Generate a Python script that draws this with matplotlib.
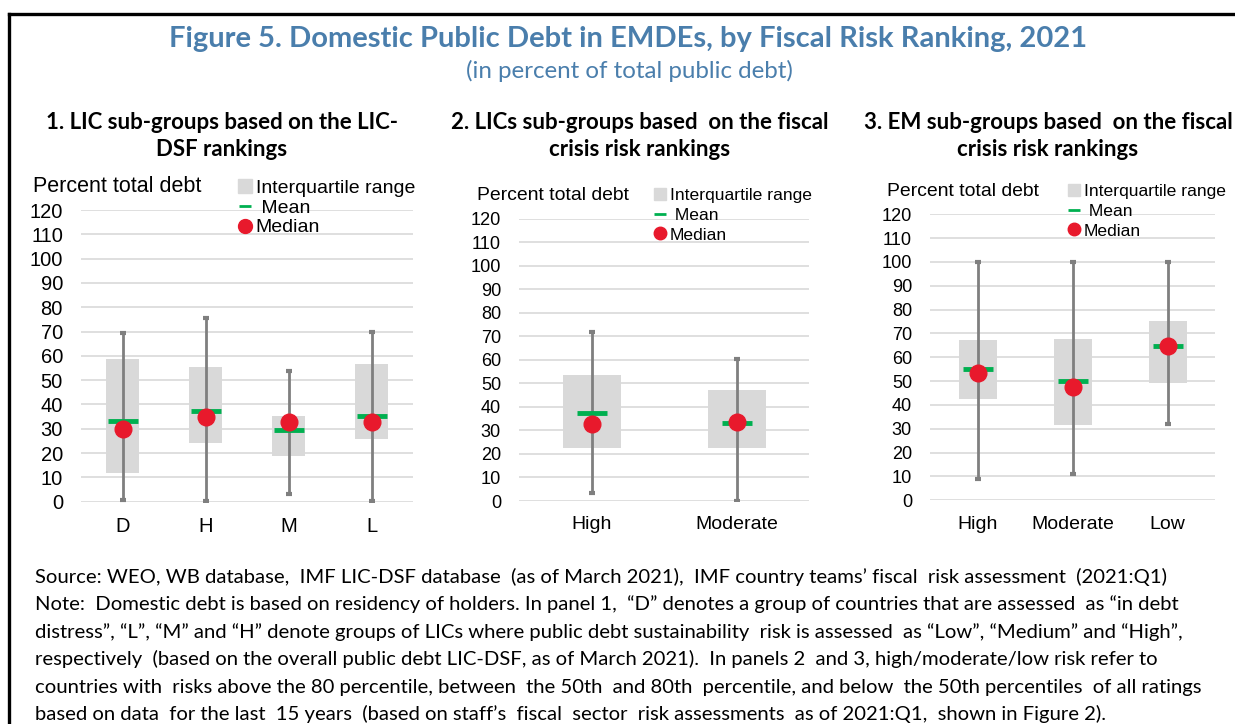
import numpy as np
import matplotlib
matplotlib.use('Agg')
import matplotlib.pyplot as plt
from matplotlib.lines import Line2D

# dados
cats1 = ['D', 'H', 'M', 'L']
lo1 = [0.5, 0.4, 3.2, 0.4]
hi1 = [69.3, 75.4, 53.9, 69.7]
q1_1 = [11.7, 24.0, 18.9, 25.8]
q3_1 = [58.6, 55.3, 35.4, 56.5]
mean1 = [33.3, 37.4, 29.6, 35.4]
med1 = [29.9, 34.8, 32.6, 32.6]

cats2 = ['High', 'Moderate']
lo2 = [3.3, 0.0]
hi2 = [71.7, 60.4]
q1_2 = [22.7, 22.7]
q3_2 = [53.4, 47.0]
mean2 = [37.3, 33.2]
med2 = [32.7, 33.4]

cats3 = ['High', 'Moderate', 'Low']
lo3 = [8.8, 11.0, 32.0]
hi3 = [100, 100, 100]
q1_3 = [42.4, 31.7, 49.1]
q3_3 = [67.3, 67.8, 75.4]
mean3 = [55.1, 50.2, 64.9]
med3 = [53.4, 47.7, 64.8]

panel_titles = ['1. LIC sub-groups based on the LIC-\nDSF rankings',
                '2. LICs sub-groups based  on the fiscal\ncrisis risk rankings',
                '3. EM sub-groups based  on the fiscal\ncrisis risk rankings']

notes = ['Source: WEO, WB database,  IMF LIC-DSF database  (as of March 2021),  IMF country teams\u2019 fiscal  risk assessment  (2021:Q1)',
         'Note:  Domestic debt is based on residency of holders. In panel 1,  \u201cD\u201d denotes a group of countries that are assessed  as \u201cin debt',
         'distress\u201d, \u201cL\u201d, \u201cM\u201d and \u201cH\u201d denote groups of LICs where public debt sustainability  risk is assessed  as \u201cLow\u201d, \u201cMedium\u201d and \u201cHigh\u201d,',
         'respectively  (based on the overall public debt LIC-DSF, as of March 2021).  In panels 2  and 3, high/moderate/low risk refer to',
         'countries with  risks above the 80 percentile, between  the 50th  and 80th  percentile, and below  the 50th percentiles  of all ratings',
         'based on data  for the last  15 years  (based on staff\u2019s  fiscal  sector  risk assessments  as of 2021:Q1,  shown in Figure 2).']

W, H = 1235, 724
BLUE = '#4a7eac'
GRID = '#d9d9d9'
BOX = '#d9d9d9'
WHISK = '#7f7f7f'
GREEN = '#00b050'
RED = '#e8192c'
CF = 'Liberation Sans'
TF = 'Lato'

fig = plt.figure(figsize=(W/100, H/100), dpi=100)

def px(x, y):
    return x/W, 1 - y/H

# moldura
fig.add_artist(Line2D([9/W, 1], [1-14/H, 1-14/H], color='black', lw=2.4))
fig.add_artist(Line2D([9/W, 9/W], [1-14/H, 0], color='black', lw=2.4))

fig.text(*px(628, 47), 'Figure 5. Domestic Public Debt in EMDEs, by Fiscal Risk Ranking, 2021',
         ha='center', va='baseline', color=BLUE, fontsize=21, fontweight='bold', family=TF)
fig.text(*px(629, 78), '(in percent of total public debt)',
         ha='center', va='baseline', color=BLUE, fontsize=17.4, family=TF)

# posicao dos paineis em pixels: esquerda, direita, topo (120), base (0)
boxes = [(81, 413, 210, 501.7), (519, 809, 218.7, 501), (930, 1215, 214.3, 500.3)]
title_x = [222, 640, 1048]
ylab_pos = [(33, 187), (477, 196), (887, 191)]
leg_pos = [(238, 179), (654, 188), (1068, 184)]
scale = [1.0, 0.9, 0.9]
leg_sp = [0.12, 0.25, 0.25]

data = [(cats1, lo1, hi1, q1_1, q3_1, mean1, med1),
        (cats2, lo2, hi2, q1_2, q3_2, mean2, med2),
        (cats3, lo3, hi3, q1_3, q3_3, mean3, med3)]

for k in range(3):
    l, r, t, b = boxes[k]
    sc = scale[k]
    ax = fig.add_axes([l/W, 1-b/H, (r-l)/W, (b-t)/H])
    cats, lo, hi, q1, q3, mn, md = data[k]
    x = np.arange(len(cats))
    ax.set_ylim(0, 120)
    ax.set_xlim(-0.5, len(cats)-0.5)
    ax.set_yticks(np.arange(0, 121, 10))
    ax.set_xticks(x)
    ax.set_xticklabels(cats)
    ax.grid(axis='y', color=GRID, lw=1.2)
    ax.set_axisbelow(True)
    for s in ax.spines.values():
        s.set_visible(False)
    ax.tick_params(length=0)
    ax.tick_params(axis='x', labelsize=14.5*sc if k == 0 else 14, pad=11)
    ax.tick_params(axis='y', labelsize=14.5*sc, pad=13)
    for lab in ax.get_xticklabels() + ax.get_yticklabels():
        lab.set_family(CF)

    ax.bar(x, np.array(q3)-np.array(q1), bottom=q1, width=0.4, color=BOX, zorder=2)
    ax.vlines(x, lo, hi, color=WHISK, lw=2, zorder=3)
    ax.plot(x, lo, ls='none', marker='_', ms=4, mew=3, color=WHISK, zorder=3)
    ax.plot(x, hi, ls='none', marker='_', ms=4, mew=3, color=WHISK, zorder=3)
    ax.plot(x, mn, ls='none', marker='_', ms=21, mew=3.5, color=GREEN, zorder=4)
    ax.plot(x, md, ls='none', marker='o', ms=12, color=RED, mec=RED, zorder=5)

    handles = [Line2D([], [], ls='none', marker='s', ms=10*sc, color=BOX),
               Line2D([], [], ls='none', marker='_', ms=9*sc, mew=2, color=GREEN),
               Line2D([], [], ls='none', marker='o', ms=10*sc, color=RED)]
    lx, ly = leg_pos[k]
    ax.legend(handles, ['Interquartile range', ' Mean', 'Median'],
              loc='upper left', bbox_to_anchor=px(lx, ly), bbox_transform=fig.transFigure,
              frameon=False, borderpad=0, borderaxespad=0, handlelength=0.7,
              handletextpad=0.2, labelspacing=leg_sp[k], prop={'family': CF, 'size': 14*sc})

    fig.text(*px(*ylab_pos[k]), 'Percent total debt', ha='left', va='center',
             fontsize=15.5*sc, family=CF)
    fig.text(*px(title_x[k], 136), panel_titles[k], ha='center', va='center',
             fontsize=16, fontweight='bold', family=TF, linespacing=1.3)

for i, line in enumerate(notes):
    fig.text(*px(35, 583 + 27.4*i), line, ha='left', va='baseline', fontsize=14.6, family=TF)

fig.savefig('out.png', dpi=100)
